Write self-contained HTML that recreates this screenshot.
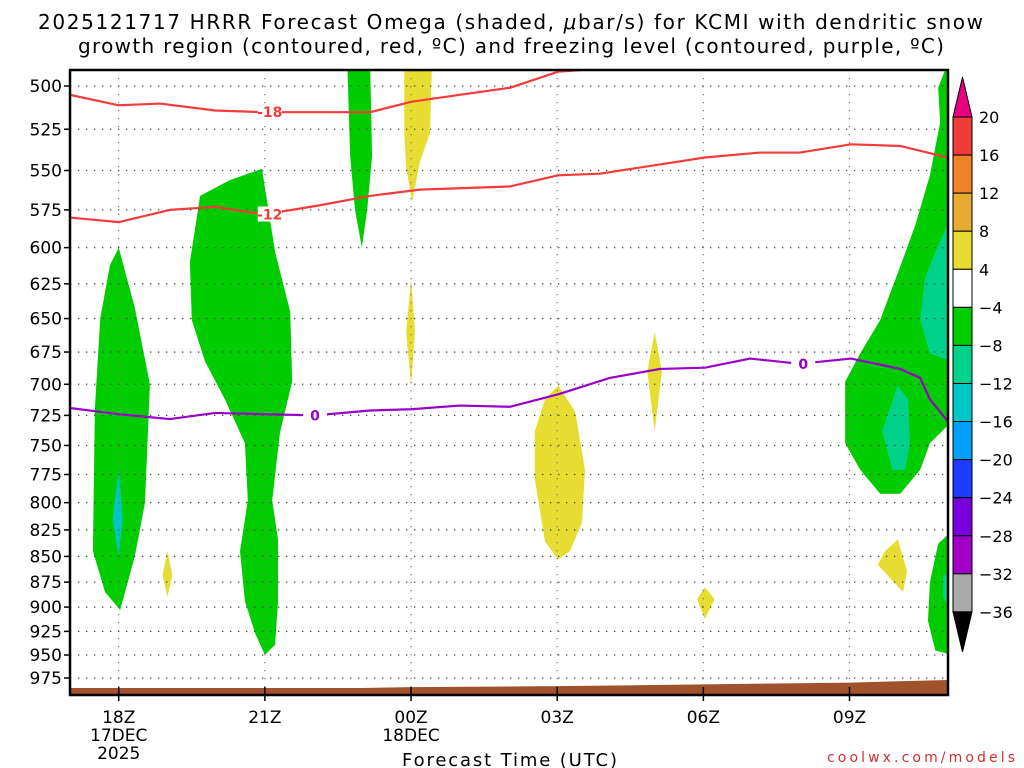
<!DOCTYPE html>
<html><head><meta charset="utf-8"><style>
body{margin:0;background:#fff;}
svg{display:block;font-family:"DejaVu Sans","Liberation Sans",sans-serif;}
</style></head><body>
<svg id="chart" width="1024" height="768" viewBox="0 0 1024 768" xmlns="http://www.w3.org/2000/svg">
<text x="38" y="29" font-size="20" textLength="945" lengthAdjust="spacing">2025121717 HRRR Forecast Omega (shaded, <tspan font-style="italic">μ</tspan>bar/s) for KCMI with dendritic snow</text>
<text x="78" y="53" font-size="20" textLength="866" lengthAdjust="spacing">growth region (contoured, red, ºC) and freezing level (contoured, purple, ºC)</text>
<g id="plot"></g>
<g id="cbar"></g>
<text x="402" y="766" font-size="18" textLength="215" lengthAdjust="spacing">Forecast Time (UTC)</text>
<text x="827" y="762" font-size="14" fill="#d23030" textLength="188" lengthAdjust="spacing">coolwx.com/models</text>
</svg>
<script>
const pressureTicks=[500,525,550,575,600,625,650,675,700,725,750,775,800,825,850,875,900,925,950,975];
const timeTickHours=[1,4,7,10,13,16];
const timeTickLabels=[["18Z","17DEC","2025"],["21Z"],["00Z","18DEC"],["03Z"],["06Z"],["09Z"]];
const redMinus18=[[0,505],[1,511],[1.85,510],[2.98,514],[3.98,515],[6.16,515],[7,509],[8,505],[9.03,501],[10.02,492],[11.08,490]];
const redMinus12=[[0,580],[1,583],[2.05,575],[2.98,573],[3.98,578],[5.13,572],[6.16,566],[7.18,562],[9.03,560],[10.02,553],[10.88,552],[13.03,542],[14.16,539],[14.98,539],[16.03,534],[17.04,535],[18.02,542]];
const purpleZero=[[0,719],[1,724],[2.05,728],[2.98,723],[3.98,724],[5.03,725],[6.16,721],[7,720],[8,717],[9.03,718],[10.02,708],[11.08,695],[12.11,688],[13.03,687],[13.96,680],[14.98,684],[16.03,680],[17.04,688],[17.45,695],[17.65,712],[18.02,730]];
const surfaceHours=[0,6,7,10,13,16,18.1];
const surfacePressure=[986,986,985,984,982,980,977];
const shadeLevels=[20,16,12,8,4,-4,-8,-12,-16,-20,-24,-28,-32,-36];
const shadeColors=["#f23c3c","#f0822a","#e6ac32","#e6dc32","#ffffff","#00cc00","#00d28c","#00c8c8","#00a0ff","#1e3cff","#7800dc","#a000c8","#aaaaaa"];
const omegaRegions=[
 {c:"#00cc00",pts:[[1,600],[1.33,642],[1.64,700],[1.54,800],[1.33,850],[1.03,903],[0.72,885],[0.47,845],[0.51,720],[0.62,650],[0.82,612]]},
 {c:"#00c8c8",pts:[[1,770],[1.08,815],[1,850],[0.88,815]]},
 {c:"#e6dc32",pts:[[2,845],[2.1,868],[2,890],[1.9,868]]},
 {c:"#00cc00",pts:[[2.46,610],[2.67,566],[3.28,556],[3.94,549],[4.21,603],[4.52,645],[4.56,698],[4.31,739],[4.15,798],[4.27,834],[4.27,894],[4.21,939],[4,950],[3.8,927],[3.59,894],[3.49,845],[3.65,798],[3.59,748],[3.18,712],[2.77,682],[2.5,651]]},
 {c:"#00cc00",pts:[[5.69,487],[6.16,487],[6.2,541],[6.1,575],[5.99,600],[5.85,575],[5.75,541]]},
 {c:"#e6dc32",pts:[[6.86,487],[7.43,487],[7.39,527],[7.18,545],[7.02,570],[6.9,548],[6.86,527]]},
 {c:"#e6dc32",pts:[[7,621],[7.08,660],[7,701],[6.9,660]]},
 {c:"#e6dc32",pts:[[10.02,701],[10.37,722],[10.57,771],[10.51,818],[10.26,845],[10.02,853],[9.75,836],[9.54,779],[9.54,738],[9.75,712]]},
 {c:"#e6dc32",pts:[[12,660],[12.15,690],[12,738],[11.85,690]]},
 {c:"#e6dc32",pts:[[13.03,880],[13.23,892],[13.03,912],[12.87,892]]},
 {c:"#e6dc32",pts:[[16.99,834],[17.18,864],[17.1,885],[16.58,858],[16.73,845]]},
 {c:"#00cc00",pts:[[17.82,501],[18.02,487],[18.1,487],[18.1,730],[17.65,748],[17.45,771],[17.04,792],[16.63,792],[16.22,771],[15.91,748],[15.91,698],[16.22,676],[16.63,651],[16.83,632],[17.04,613],[17.35,585],[17.65,553],[17.86,521]]},
 {c:"#00d28c",pts:[[18.1,578],[18.1,682],[17.65,676],[17.45,651],[17.55,621],[17.76,603]]},
 {c:"#00d28c",pts:[[16.99,701],[17.2,712],[17.24,748],[17.14,771],[16.88,771],[16.67,738]]},
 {c:"#00cc00",pts:[[18.1,826],[18.1,950],[17.76,945],[17.61,914],[17.65,875],[17.82,838]]},
 {c:"#00d28c",pts:[[18.1,860],[18.1,905],[17.92,890],[17.92,870]]}
];
const NS="http://www.w3.org/2000/svg";
const L=70,R=948,T=70,B=695;
const xs=h=>L+h*48.72;
const ys=p=>86+886.5*Math.log(p/500);
const plot=document.getElementById('plot');
function mk(tag,attrs,parent){const e=document.createElementNS(NS,tag);for(const k in attrs)e.setAttribute(k,attrs[k]);(parent||plot).appendChild(e);return e;}
const defs=mk('defs',{});
const cp=mk('clipPath',{id:'clip'},defs);mk('rect',{x:L,y:T,width:R-L,height:B-T},cp);
const g=mk('g',{'clip-path':'url(#clip)'});
omegaRegions.forEach((r,i)=>{
 const e=mk('polygon',{points:r.pts.map(q=>xs(q[0])+','+ys(q[1])).join(' '),fill:r.c,'stroke-linejoin':'round'},g);
 
 
});
pressureTicks.forEach(p=>{
 const e=mk('line',{x1:L,x2:R,y1:ys(p),y2:ys(p),stroke:'#444','stroke-width':1.3,'stroke-dasharray':'1.3 6.7'},g);
 
 
});
timeTickHours.forEach(h=>{
 const e=mk('line',{x1:xs(h),x2:xs(h),y1:T,y2:B,stroke:'#777','stroke-width':1.2,'stroke-dasharray':'1.3 6.7'},g);
 
 
});
function line(arr,col,name){
 const e=mk('polyline',{points:arr.map(q=>xs(q[0])+','+ys(q[1])).join(' '),fill:'none',stroke:col,'stroke-width':2.2,'stroke-linejoin':'round'},g);
 
 
}
line(redMinus18,'#f23c3c','contour-minus18');
line(redMinus12,'#f23c3c','contour-minus12');
line(purpleZero,'#9a00c8','freezing-level-0');
function clabel(t,h,p,col,name){
 const x=xs(h),y=ys(p);
 mk('rect',{x:x-12,y:y-8,width:24,height:15,fill:'#fff'},g);
 const e=mk('text',{x:x,y:y+5,'text-anchor':'middle','font-size':14,'font-weight':'bold',fill:col},g);e.textContent=t;
 
 
}
clabel('-18',4.1,515,'#f23c3c','label-minus18');
clabel('-12',4.1,578,'#f23c3c','label-minus12');
clabel('0',5.03,725,'#9a00c8','label-zero-left');
clabel('0',15.05,684,'#9a00c8','label-zero-right');
const sp=surfaceHours.map((h,i)=>xs(h)+','+ys(surfacePressure[i]));
const ground=mk('polygon',{points:sp.join(' ')+' '+xs(18.1)+','+B+' '+L+','+B,fill:'#a0522d'},g);


const fr=mk('rect',{x:L,y:T,width:R-L,height:B-T,fill:'none',stroke:'#000','stroke-width':2.5});


pressureTicks.forEach(p=>{
 mk('line',{x1:L-6,x2:L,y1:ys(p),y2:ys(p),stroke:'#000','stroke-width':1.5});
 const e=mk('text',{x:62,y:ys(p)+6,'text-anchor':'end','font-size':17});e.textContent=p;
 
 
});
timeTickHours.forEach((h,i)=>{
 mk('line',{x1:xs(h),x2:xs(h),y1:B-8,y2:B+6,stroke:'#000','stroke-width':1.5});
 timeTickLabels[i].forEach((t,j)=>{
  const e=mk('text',{x:xs(h),y:723+j*18,'text-anchor':'middle','font-size':17});e.textContent=t;
  
  
 });
});
const cb=document.getElementById('cbar');
const cx=953,cw=19,ct=117,ch=38.07;
const up=mk('polygon',{points:`${cx},${ct} ${cx+cw},${ct} ${cx+cw/2},${ct-40}`,fill:'#e6007f',stroke:'#000'},cb);


shadeColors.forEach((c,i)=>{
 const e=mk('rect',{x:cx,y:ct+i*ch,width:cw,height:ch,fill:c,stroke:'#000','stroke-width':1},cb);
 
 
});
const bt=ct+shadeColors.length*ch;
const dn=mk('polygon',{points:`${cx},${bt} ${cx+cw},${bt} ${cx+cw/2},${bt+40}`,fill:'#000',stroke:'#000'},cb);


shadeLevels.forEach((v,i)=>{
 const e=mk('text',{x:979,y:ct+i*ch+6,'font-size':16},cb);e.textContent=v<0?'\u2212'+(-v):v;
 
 
});
</script>
</body></html>
